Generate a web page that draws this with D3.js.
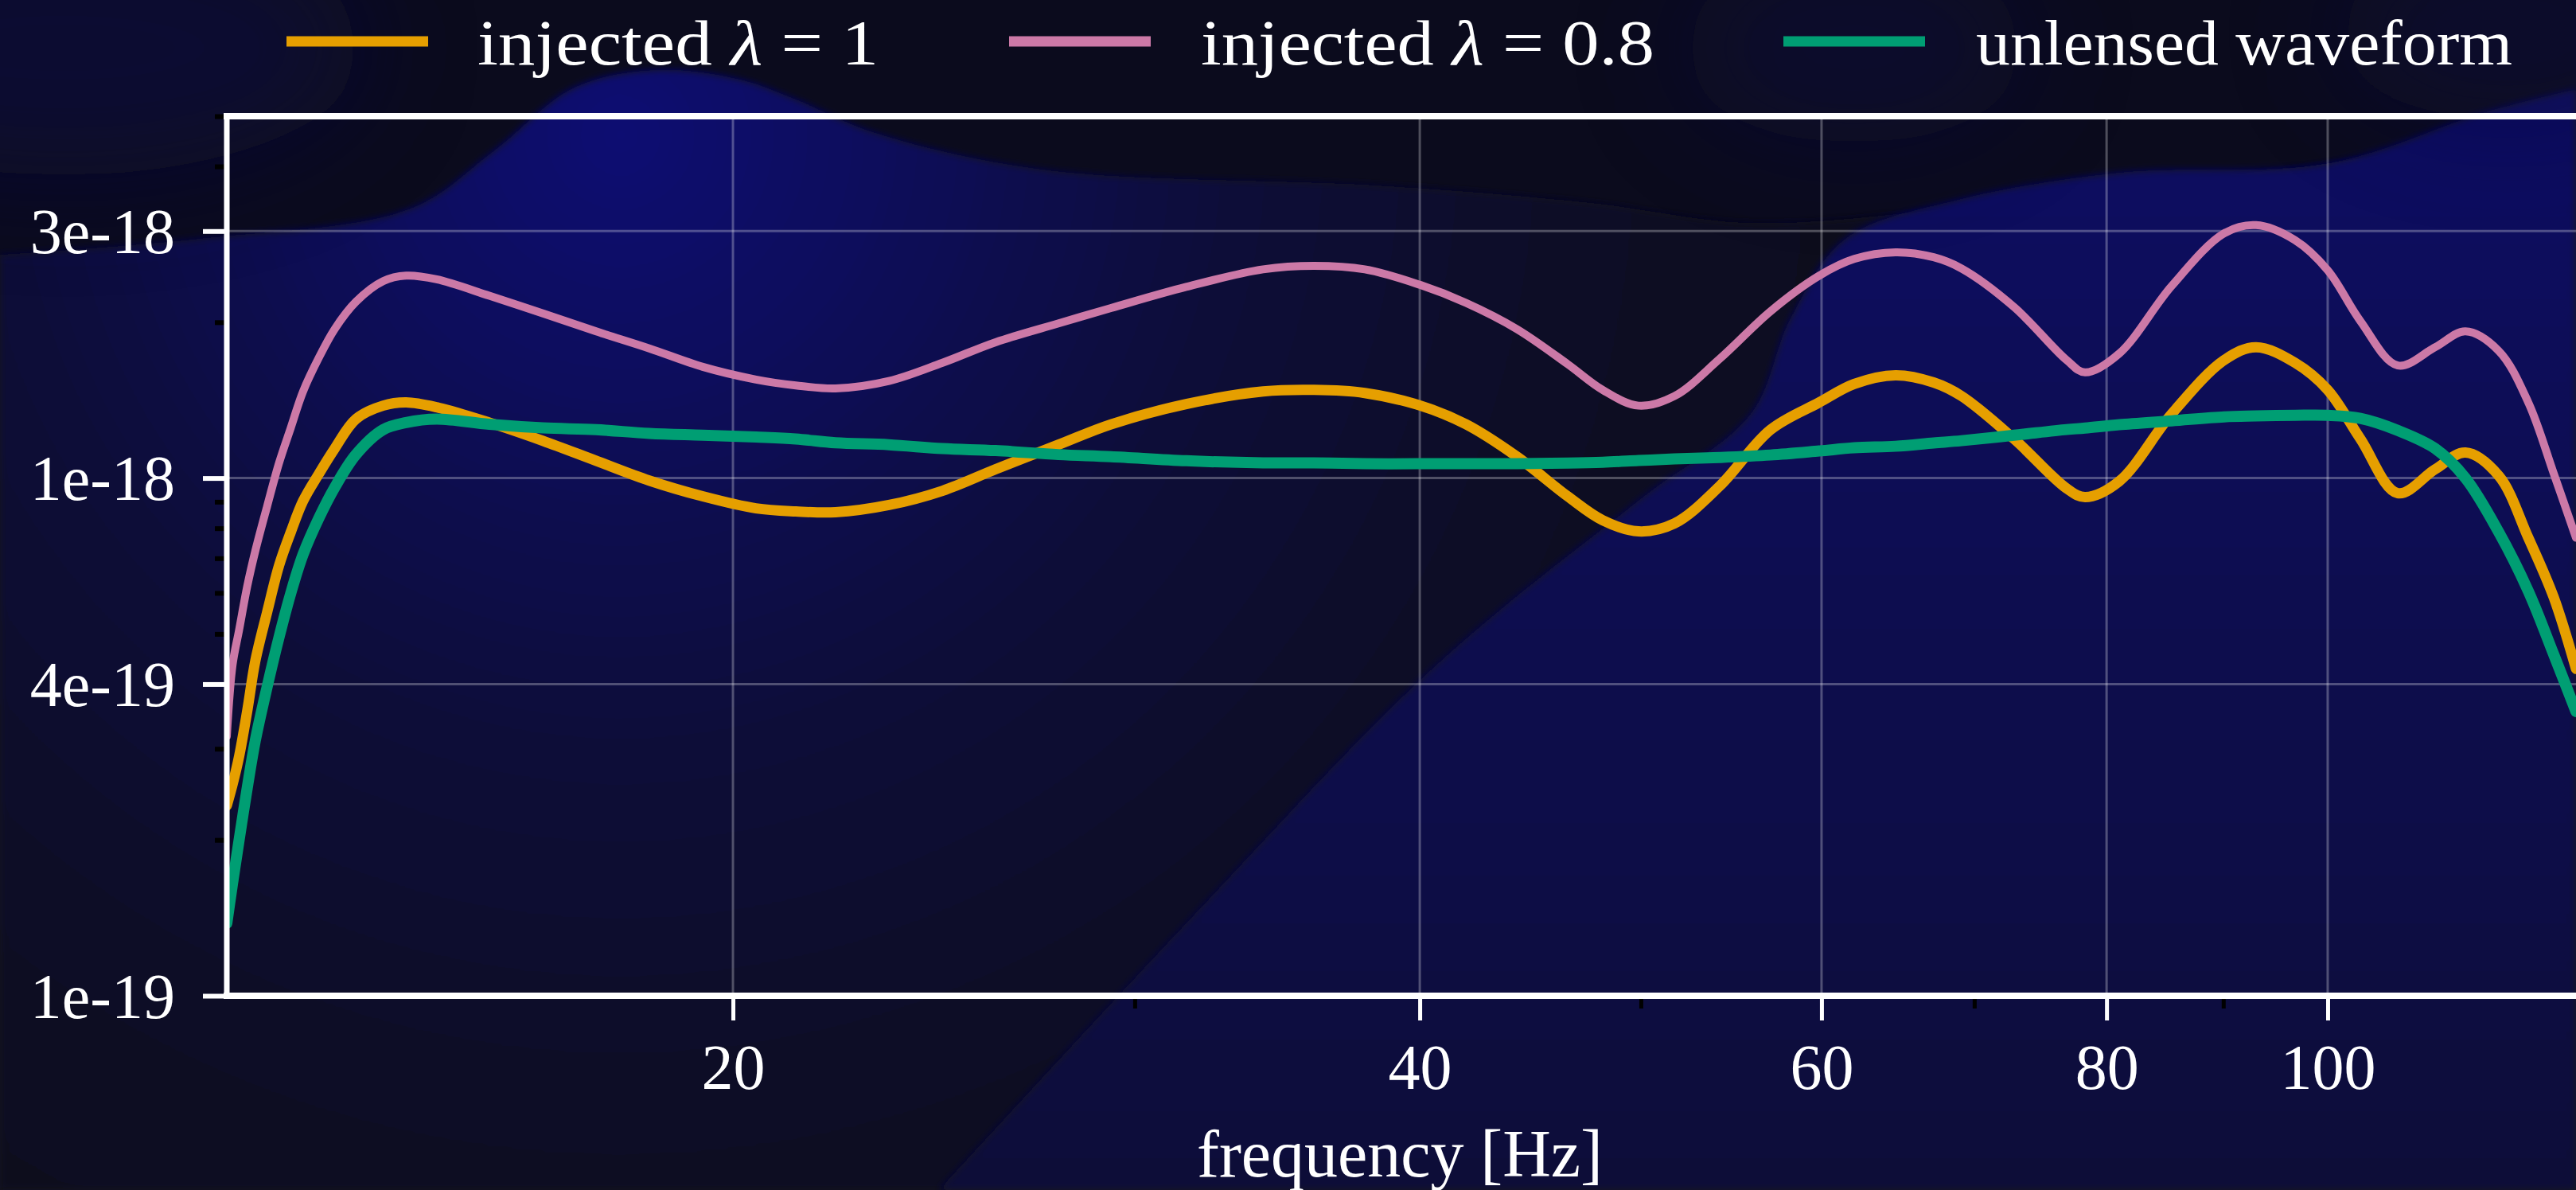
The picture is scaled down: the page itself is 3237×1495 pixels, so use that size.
<!DOCTYPE html>
<html>
<head>
<meta charset="utf-8">
<script src="https://cdn.jsdelivr.net/npm/d3@7"></script>
<style>
html, body { margin: 0; padding: 0; background: #0b0b1d; overflow: hidden; }
svg { display: block; }
</style>
</head>
<body>
<svg id="chart" width="3237" height="1495"></svg>
<script>
// ---------------- DATA ----------------
const frequencies = [12.00, 12.07, 12.15, 12.25, 12.35, 12.50, 12.65, 12.80, 12.96, 13.17,
  13.38, 13.67, 14.05, 14.38, 14.83, 15.64, 16.51, 17.42, 18.38, 19.40,
  20.47, 21.31, 22.18, 23.41, 24.71, 26.07, 27.78, 29.29, 31.60, 34.15,
  35.95, 37.84, 40.03, 41.91, 44.12, 46.44, 48.11, 49.88, 51.72, 54.14,
  56.99, 59.86, 62.01, 64.65, 67.19, 69.11, 72.87, 76.84, 78.28, 81.03,
  85.43, 90.08, 93.02, 96.76, 100.0, 103.36, 107.33, 111.46, 114.91, 118.85,
  122.44, 125.63, 128.48];

const injectedLambda1 = [2.33e-19, 2.56e-19, 2.90e-19, 3.55e-19, 4.43e-19, 5.52e-19, 6.78e-19, 7.86e-19, 9.03e-19, 1.02e-18,
  1.14e-18, 1.30e-18, 1.38e-18, 1.40e-18, 1.37e-18, 1.28e-18, 1.18e-18, 1.08e-18, 9.89e-19, 9.22e-19,
  8.74e-19, 8.62e-19, 8.59e-19, 8.87e-19, 9.45e-19, 1.04e-18, 1.16e-18, 1.27e-18, 1.39e-18, 1.47e-18,
  1.48e-18, 1.46e-18, 1.38e-18, 1.27e-18, 1.10e-18, 9.22e-19, 8.29e-19, 7.89e-19, 8.17e-19, 9.65e-19,
  1.24e-18, 1.40e-18, 1.52e-18, 1.58e-18, 1.53e-18, 1.44e-18, 1.19e-18, 9.55e-19, 9.19e-19, 9.86e-19,
  1.33e-18, 1.69e-18, 1.79e-18, 1.67e-18, 1.48e-18, 1.19e-18, 9.35e-19, 1.04e-18, 1.12e-18, 1.01e-18,
  7.67e-19, 5.88e-19, 4.28e-19];

const injectedLambda08 = [3.17e-19, 4.36e-19, 5.09e-19, 6.18e-19, 7.23e-19, 8.84e-19, 1.07e-18, 1.25e-18, 1.47e-18, 1.71e-18,
  1.94e-18, 2.19e-18, 2.40e-18, 2.46e-18, 2.42e-18, 2.25e-18, 2.08e-18, 1.92e-18, 1.78e-18, 1.64e-18,
  1.55e-18, 1.51e-18, 1.49e-18, 1.54e-18, 1.67e-18, 1.83e-18, 1.99e-18, 2.13e-18, 2.34e-18, 2.53e-18,
  2.57e-18, 2.53e-18, 2.36e-18, 2.18e-18, 1.94e-18, 1.66e-18, 1.48e-18, 1.38e-18, 1.44e-18, 1.70e-18,
  2.10e-18, 2.46e-18, 2.65e-18, 2.73e-18, 2.67e-18, 2.54e-18, 2.14e-18, 1.69e-18, 1.60e-18, 1.74e-18,
  2.35e-18, 2.97e-18, 3.08e-18, 2.88e-18, 2.52e-18, 2.01e-18, 1.65e-18, 1.79e-18, 1.92e-18, 1.76e-18,
  1.40e-18, 1.02e-18, 7.67e-19];

const unlensedWaveform = [1.38e-19, 1.65e-19, 2.00e-19, 2.52e-19, 3.11e-19, 3.96e-19, 4.93e-19, 5.99e-19, 7.12e-19, 8.38e-19,
  9.59e-19, 1.11e-18, 1.24e-18, 1.28e-18, 1.30e-18, 1.27e-18, 1.25e-18, 1.24e-18, 1.22e-18, 1.21e-18,
  1.20e-18, 1.19e-18, 1.17e-18, 1.16e-18, 1.14e-18, 1.13e-18, 1.11e-18, 1.10e-18, 1.08e-18, 1.07e-18,
  1.07e-18, 1.066e-18, 1.066e-18, 1.066e-18, 1.066e-18, 1.069e-18, 1.073e-18, 1.081e-18, 1.089e-18, 1.096e-18,
  1.108e-18, 1.128e-18, 1.144e-18, 1.152e-18, 1.169e-18, 1.181e-18, 1.210e-18, 1.241e-18, 1.249e-18, 1.268e-18,
  1.290e-18, 1.313e-18, 1.318e-18, 1.322e-18, 1.322e-18, 1.304e-18, 1.236e-18, 1.140e-18, 1.00e-18, 7.86e-19,
  6.05e-19, 4.56e-19, 3.54e-19];

const xTickValues = [20, 40, 60, 80, 100];
const xTickLabels = ["20", "40", "60", "80", "100"];
const xMinorTicks = [30, 50, 70, 90];
const yTickValues = [1e-19, 4e-19, 1e-18, 3e-18];
const yTickLabels = ["1e-19", "4e-19", "1e-18", "3e-18"];
const yMinorTicks = [2e-19, 3e-19, 5e-19, 6e-19, 7e-19, 8e-19, 9e-19, 2e-18, 4e-18, 5e-18];
const xDomain = [12, 128.48];
const yDomain = [1e-19, 5e-18];
const xAxisTitle = "frequency [Hz]";
const seriesNames = ["injected λ = 1", "injected λ = 0.8", "unlensed waveform"];

// ---------------- LAYOUT ----------------
const W = 3237, H = 1495;
const plot = { left: 285, right: 3237, top: 146, bottom: 1251 };
const FONT = "'Liberation Serif', 'DejaVu Serif', serif";

const svg = d3.select("#chart");
const defs = svg.append("defs");

// ---------------- BACKGROUND ----------------
svg.append("rect").attr("width", W).attr("height", H).attr("fill", "#0b0b1d");

const blur = defs.append("filter").attr("id", "softBlur")
  .attr("x", "-20%").attr("y", "-20%").attr("width", "140%").attr("height", "140%");
blur.append("feGaussianBlur").attr("stdDeviation", 5);
const bigBlur = defs.append("filter").attr("id", "bigBlur")
  .attr("x", "-100%").attr("y", "-100%").attr("width", "300%").attr("height", "300%");
bigBlur.append("feGaussianBlur").attr("stdDeviation", 70);

const rg = defs.append("radialGradient").attr("id", "leftGlow")
  .attr("gradientUnits", "userSpaceOnUse").attr("cx", 780).attr("cy", 170).attr("r", 1550);
rg.append("stop").attr("offset", 0).attr("stop-color", "#0d0f72");
rg.append("stop").attr("offset", 0.22).attr("stop-color", "#0b0c5a");
rg.append("stop").attr("offset", 0.5).attr("stop-color", "#0a0a38");
rg.append("stop").attr("offset", 0.78).attr("stop-color", "#0a0a26");
rg.append("stop").attr("offset", 1).attr("stop-color", "#0a0a1e");

const lg = defs.append("linearGradient").attr("id", "rightGlow")
  .attr("gradientUnits", "userSpaceOnUse").attr("x1", 0).attr("y1", 110).attr("x2", 0).attr("y2", 1495);
lg.append("stop").attr("offset", 0).attr("stop-color", "#0b0c62");
lg.append("stop").attr("offset", 0.35).attr("stop-color", "#0a0a54");
lg.append("stop").attr("offset", 0.7).attr("stop-color", "#0a0a46");
lg.append("stop").attr("offset", 1).attr("stop-color", "#0a0a38");

const bgLine = d3.line().curve(d3.curveCatmullRom.alpha(0.5));
const topBoundary = [[0, 320], [250, 300], [516, 262], [619, 191], [722, 110], [826, 88], [930, 100],
  [1000, 125], [1100, 167], [1310, 213], [1731, 233], [2000, 255], [2200, 280], [2450, 262],
  [2700, 230], [2927, 205], [3237, 150]];
svg.append("path")
  .attr("d", bgLine(topBoundary) + "L3237,1495L0,1495Z")
  .attr("fill", "url(#leftGlow)").attr("filter", "url(#softBlur)");

const rightBoundary = [[1180, 1495], [1500, 1150], [1800, 840], [2064, 625], [2200, 520], [2250, 400],
  [2319, 300], [2465, 250], [2663, 217], [2927, 205], [3126, 140], [3237, 112]];
svg.append("path")
  .attr("d", bgLine(rightBoundary) + "L3237,1495Z")
  .attr("fill", "url(#rightGlow)").attr("filter", "url(#softBlur)");

// soft top accents
svg.append("ellipse").attr("cx", 80).attr("cy", 60).attr("rx", 380).attr("ry", 160)
  .attr("fill", "#0b0b40").attr("opacity", 0.6).attr("filter", "url(#bigBlur)");
svg.append("ellipse").attr("cx", 2330).attr("cy", 60).attr("rx", 220).attr("ry", 120)
  .attr("fill", "#0b0b40").attr("opacity", 0.45).attr("filter", "url(#bigBlur)");
svg.append("ellipse").attr("cx", 3150).attr("cy", 40).attr("rx", 220).attr("ry", 110)
  .attr("fill", "#0b0b40").attr("opacity", 0.45).attr("filter", "url(#bigBlur)");

// ---------------- SCALES ----------------
const x = d3.scaleLog().domain(xDomain).range([plot.left, plot.right]);
const y = d3.scaleLog().domain(yDomain).range([plot.bottom, plot.top]);

// ---------------- GRID ----------------
const grid = svg.append("g").attr("class", "grid");
grid.selectAll("line.v").data(xTickValues).join("line")
  .attr("x1", d => x(d)).attr("x2", d => x(d))
  .attr("y1", plot.top).attr("y2", plot.bottom)
  .attr("stroke", "#ffffff").attr("stroke-opacity", 0.28).attr("stroke-width", 3);
grid.selectAll("line.h").data(yTickValues.slice(1)).join("line")
  .attr("x1", plot.left).attr("x2", plot.right)
  .attr("y1", d => y(d)).attr("y2", d => y(d))
  .attr("stroke", "#ffffff").attr("stroke-opacity", 0.28).attr("stroke-width", 3);

// ---------------- LINES ----------------
defs.append("clipPath").attr("id", "plotClip").append("rect")
  .attr("x", plot.left).attr("y", plot.top)
  .attr("width", plot.right - plot.left).attr("height", plot.bottom - plot.top);

const series = [
  { name: seriesNames[0], values: injectedLambda1, color: "#E69F00", width: 13 },
  { name: seriesNames[1], values: injectedLambda08, color: "#CC79A7", width: 10 },
  { name: seriesNames[2], values: unlensedWaveform, color: "#009E73", width: 14 }
];

const line = d3.line()
  .x(d => x(d[0])).y(d => y(d[1]))
  .curve(d3.curveCatmullRom.alpha(0.5));

const lines = svg.append("g").attr("clip-path", "url(#plotClip)");
series.forEach(s => {
  lines.append("path")
    .datum(frequencies.map((f, i) => [f, s.values[i]]))
    .attr("d", line)
    .attr("fill", "none")
    .attr("stroke", s.color)
    .attr("stroke-width", s.width)
    .attr("stroke-linejoin", "round")
    .attr("stroke-linecap", "round");
});

// ---------------- AXES ----------------
const xAxisMinor = d3.axisBottom(x).tickValues(xMinorTicks).tickSize(16).tickFormat("");
svg.append("g").attr("transform", `translate(0,${plot.bottom})`).call(xAxisMinor)
  .call(g => g.select(".domain").remove())
  .call(g => g.selectAll(".tick line").attr("stroke", "#000").attr("stroke-width", 5));
const yAxisMinor = d3.axisLeft(y).tickValues(yMinorTicks).tickSize(15).tickFormat("");
svg.append("g").attr("transform", `translate(${plot.left},0)`).call(yAxisMinor)
  .call(g => g.select(".domain").remove())
  .call(g => g.selectAll(".tick line").attr("stroke", "#000").attr("stroke-width", 6));

const xAxis = d3.axisBottom(x).tickValues(xTickValues)
  .tickFormat((d, i) => xTickLabels[i]).tickSize(31).tickPadding(29);
svg.append("g").attr("transform", `translate(0,${plot.bottom})`).call(xAxis)
  .call(g => g.select(".domain").remove())
  .call(g => g.selectAll(".tick line").attr("stroke", "#fff").attr("stroke-width", 5))
  .call(g => g.selectAll(".tick text")
    .attr("fill", "#fff").attr("font-family", FONT).attr("font-size", 80).attr("dy", "0.71em"));

const yAxis = d3.axisLeft(y).tickValues(yTickValues)
  .tickFormat((d, i) => yTickLabels[i]).tickSize(30).tickPadding(35);
svg.append("g").attr("transform", `translate(${plot.left},0)`).call(yAxis)
  .call(g => g.select(".domain").remove())
  .call(g => g.selectAll(".tick line").attr("stroke", "#fff").attr("stroke-width", 6))
  .call(g => g.selectAll(".tick text")
    .attr("fill", "#fff").attr("font-family", FONT).attr("font-size", 80).attr("dy", "0.34em"));

// spines
const spines = svg.append("g").attr("stroke", "#fff").attr("stroke-width", 8).attr("stroke-linecap", "square");
spines.append("line").attr("x1", plot.left).attr("x2", plot.right + 10).attr("y1", plot.top).attr("y2", plot.top);
spines.append("line").attr("x1", plot.left).attr("x2", plot.right + 10).attr("y1", plot.bottom).attr("y2", plot.bottom);
spines.append("line").attr("x1", plot.left).attr("x2", plot.left).attr("y1", plot.top).attr("y2", plot.bottom)
  .attr("stroke-width", 7);

// axis title
svg.append("text")
  .attr("x", (plot.left + plot.right) / 2 - 2).attr("y", 1478)
  .attr("text-anchor", "middle")
  .attr("fill", "#fff").attr("font-family", FONT).attr("font-size", 84)
  .attr("textLength", 510).attr("lengthAdjust", "spacingAndGlyphs")
  .text(xAxisTitle);

// ---------------- LEGEND ----------------
const legendLayout = [
  { lx: 360, tx: 600, tw: 504 },
  { lx: 1268, tx: 1509, tw: 570 },
  { lx: 2241, tx: 2483, tw: 674 }
];
const legend = svg.append("g");
series.forEach((s, i) => {
  const L = legendLayout[i];
  legend.append("line")
    .attr("x1", L.lx).attr("x2", L.lx + 178).attr("y1", 52).attr("y2", 52)
    .attr("stroke", s.color).attr("stroke-width", 13);
  const t = legend.append("text")
    .attr("x", L.tx).attr("y", 81)
    .attr("fill", "#fff").attr("font-family", FONT).attr("font-size", 80)
    .attr("textLength", L.tw).attr("lengthAdjust", "spacingAndGlyphs");
  const parts = s.name.split("λ");
  if (parts.length === 2) {
    t.append("tspan").text(parts[0]);
    t.append("tspan").attr("font-style", "italic").text("λ");
    t.append("tspan").text(parts[1]);
  } else {
    t.text(s.name);
  }
});
</script>
</body>
</html>
